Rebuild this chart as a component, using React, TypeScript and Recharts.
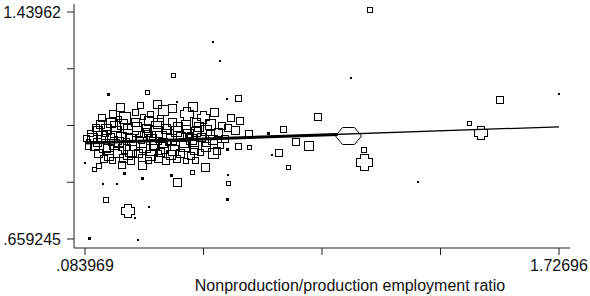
import { Scatter, ScatterChart, XAxis, YAxis, ZAxis } from "recharts";

// industries: nonproduction/production ratio, outcome, employment weight
const industryX = [
  1.0718, 0.5277, 0.552, 1.006, 0.389, 0.1637, 0.2989, 0.2746, 0.5762, 0.6143,
  0.4029, 0.8916, 1.519, 1.4149, 1.4565, 1.727, 1.2382, 1.051, 1.0476, 0.9956,
  0.8604, 0.8119, 0.7703, 0.7564, 0.7321, 0.7876, 0.649, 0.6143, 0.6524, 0.5796,
  0.6178, 0.7183, 0.5796, 0.5796, 0.5796, 0.5277, 0.5, 0.2296, 0.1533, 0.2573,
  0.3058, 0.0979, 0.2677, 0.084, 0.1291, 0.1152, 0.1464, 0.1949, 0.2192, 0.285,
  0.2122, 0.2816, 0.4029, 0.3855, 0.4549, 0.1013,
  0.181, 0.2226, 0.285, 0.3543, 0.3855, 0.4375, 0.493, 0.3093, 0.2573,
  0.136, 0.1707, 0.2122, 0.2573, 0.3024, 0.337, 0.3855, 0.4306, 0.4687, 0.5173, 0.5588,
  0.1256, 0.1568, 0.1914, 0.2296, 0.2642, 0.2954, 0.3301, 0.3647, 0.3994, 0.4341, 0.4687, 0.5034, 0.545, 0.604,
  0.1083, 0.1395, 0.1741, 0.2088, 0.2434, 0.2781, 0.3128, 0.3474, 0.3821, 0.4167, 0.4514, 0.4861, 0.5242, 0.5658,
  0.1152, 0.1499, 0.1845, 0.2192, 0.2538, 0.2885, 0.3232, 0.3578, 0.3925, 0.4271, 0.4618, 0.5, 0.552,
  0.1291, 0.1637, 0.1984, 0.233, 0.2677, 0.3093, 0.344, 0.3786, 0.4133, 0.448, 0.4826,
  0.1776, 0.24, 0.3024, 0.3647, 0.4306,
  0.0944, 0.1464, 0.226, 0.2989, 0.3717, 0.4445, 0.344, 0.1984,
  0.1187, 0.1533, 0.188, 0.2261, 0.2608, 0.2954, 0.3301, 0.3682, 0.4063, 0.441, 0.4791, 0.5173, 0.5762,
  0.1256, 0.1637, 0.2018, 0.24, 0.2781, 0.3162, 0.3509, 0.389, 0.4237, 0.4618, 0.5034, 0.5381,
  0.1464, 0.2157, 0.2781, 0.337, 0.3994, 0.4653,
  0.2053, 0.3335, 0.4583, 0.5311, 0.5866, 0.1395, 0.0944, 0.0875
];

const industryY = [
  1.4465, 1.3365, 1.2711, 1.2127, 1.223, 1.1577, 1.1646, 1.1199, 1.1405, 1.1439,
  1.1302, 1.082, 1.1405, 1.058, 1.027, 1.1577, 0.8552, 0.9239, 0.9686, 1.0167,
  0.9823, 0.9961, 1.0374, 0.9583, 0.948, 0.9067, 1.0236, 0.9789, 0.9755, 0.9686,
  1.0649, 1.0236, 0.8792, 0.8517, 0.7967, 0.9548, 0.9067, 0.7555, 0.7967, 0.7314,
  0.7692, 0.6626, 0.6557, 0.9205, 0.9136, 0.8998, 0.8483, 0.8483, 0.8861, 0.8689,
  0.917, 0.9136, 0.8552, 0.8792, 0.8895, 1.0236,
  1.0924, 1.0786, 1.082, 1.1027, 1.1096, 1.0924, 1.0786, 1.0889, 1.0958,
  1.0545, 1.0614, 1.0545, 1.0614, 1.0649, 1.058, 1.0614, 1.0545, 1.0614, 1.0545, 1.0511,
  1.0339, 1.0374, 1.0305, 1.0374, 1.0305, 1.0408, 1.0305, 1.0374, 1.0305, 1.0374, 1.0305, 1.0339, 1.027, 1.0339,
  1.0064, 1.0099, 1.003, 1.0099, 1.003, 1.0099, 1.003, 1.0099, 1.003, 1.0099, 1.003, 1.0099, 1.003, 1.0064,
  0.9823, 0.9789, 0.9858, 0.9755, 0.9823, 0.9789, 0.9858, 0.9755, 0.9823, 0.9789, 0.9858, 0.9789, 0.9823,
  0.9548, 0.948, 0.9583, 0.9514, 0.9548, 0.948, 0.9583, 0.9514, 0.9548, 0.948, 0.9583,
  0.9308, 0.9274, 0.9308, 0.9274, 0.9308,
  0.9961, 1.0236, 0.9961, 1.0236, 0.9927, 1.0201, 1.0752, 1.0752,
  1.0442, 1.0201, 1.0477, 1.0201, 1.0477, 1.0201, 1.0477, 1.0201, 1.0477, 1.0201, 1.0477, 1.0201, 1.0442,
  0.9927, 0.9686, 0.9961, 0.9652, 0.9927, 0.9686, 0.9927, 0.9652, 0.9927, 0.9652, 0.9927, 0.9652,
  0.9377, 0.9377, 0.9411, 0.9377, 0.9377, 0.9308,
  1.113, 1.1233, 1.1164, 1.0958, 1.0786, 1.0786, 0.9789, 1.0064
];

const industryWeight = [
  6, 1, 1, 1, 4, 2, 4, 9, 1, 9,
  1, 12, 12, 4, 42, 1, 1, 64, 6, 121,
  20, 12, 9, 12, 1, 4, 12, 9, 4, 2,
  12, 2, 1, 4, 2, 25, 16, 42, 6, 1,
  1, 2, 1, 1, 6, 4, 1, 1, 2, 2,
  12, 16, 16, 2, 4, 9,
  12, 30, 6, 25, 16, 42, 36, 9, 9,
  16, 20, 25, 16, 20, 25, 16, 20, 16, 25, 12,
  20, 25, 30, 20, 25, 16, 30, 20, 25, 16, 20, 25, 16, 16,
  25, 30, 36, 25, 30, 36, 25, 30, 25, 20, 25, 16, 20, 12,
  20, 30, 25, 36, 25, 30, 25, 36, 20, 25, 16, 20, 9,
  16, 20, 25, 20, 16, 25, 16, 20, 16, 12, 9,
  9, 12, 9, 12, 6,
  4, 6, 9, 9, 9, 6, 9, 6,
  12, 20, 25, 30, 20, 36, 25, 30, 20, 25, 20, 16, 12,
  16, 25, 20, 30, 25, 30, 20, 25, 20, 16, 16, 12,
  12, 16, 12, 16, 12, 9,
  16, 16, 20, 16, 12, 12, 9, 9
];

const xTicks = [0.083969, 0.494717, 0.905464, 1.316212, 1.72696];
const xTickLabels = [".083969", "", "", "", "1.72696"];
const yTicks = [0.659245, 0.854339, 1.049433, 1.244526, 1.43962];
const yTickLabels = [".659245", "", "", "", "1.43962"];

const fitX = [0.083969, 1.72696];
const fitY = [0.989, 1.045];
const denseFitX = [0.083969, 0.96];
const denseFitY = [0.989, 1.0185];

const points = industryX.map((x, i) => ({ x, y: industryY[i], w: industryWeight[i] }));
const fitData = fitX.map((x, i) => ({ x, y: fitY[i] }));
const denseFitData = denseFitX.map((x, i) => ({ x, y: denseFitY[i] }));

const font = '"Liberation Sans", Arial, Helvetica, sans-serif';

function Marker(props: any) {
  const { cx, cy } = props;
  if (cx == null || cy == null) return <g />;
  const side = props.width ?? 2 * Math.sqrt((props.size ?? 12) / Math.PI);
  if (side <= 3.2) {
    const s = Math.max(2, Math.round(side));
    return <rect x={Math.round(cx - s / 2)} y={Math.round(cy - s / 2)} width={s} height={s} fill="#000" />;
  }
  const s = Math.round(side);
  const x0 = Math.round(cx - s / 2) + 0.5;
  const y0 = Math.round(cy - s / 2) + 0.5;
  if (s >= 20) {
    // big weights come out as flat octagons
    const w = Math.round(s * 1.2);
    const h = Math.round(s * 0.75);
    const bx = Math.round(cx - w / 2) + 0.5;
    const by = Math.round(cy - h / 2) + 0.5;
    const c = Math.round(h * 0.4);
    const pts = [
      [bx + c, by], [bx + w - c, by], [bx + w, by + h / 2],
      [bx + w - c, by + h], [bx + c, by + h], [bx, by + h / 2]
    ].map((p) => p.join(",")).join(" ");
    return <polygon points={pts} fill="none" stroke="#000" strokeWidth={1} />;
  }
  if (s >= 12) {
    // notched square
    const n = Math.round(s * 0.22);
    const pts = [
      [x0 + n, y0], [x0 + s - n, y0], [x0 + s - n, y0 + n], [x0 + s, y0 + n],
      [x0 + s, y0 + s - n], [x0 + s - n, y0 + s - n], [x0 + s - n, y0 + s],
      [x0 + n, y0 + s], [x0 + n, y0 + s - n], [x0, y0 + s - n], [x0, y0 + n], [x0 + n, y0 + n]
    ].map((p) => p.join(",")).join(" ");
    return <polygon points={pts} fill="none" stroke="#000" strokeWidth={1} shapeRendering="crispEdges" />;
  }
  return <rect x={x0} y={y0} width={s} height={s} fill="none" stroke="#000" strokeWidth={1} shapeRendering="crispEdges" />;
}

export default function App() {
  return (
    <div style={{ position: "absolute", left: 0, top: 0, background: "#fff" }}>
      <ScatterChart width={590} height={296} margin={{ top: 4, right: 20, left: 0, bottom: 0 }}>
        <XAxis
          type="number"
          dataKey="x"
          domain={[0.04584, 1.76509]}
          ticks={xTicks}
          interval={0}
          allowDataOverflow
          height={48}
          tickSize={7}
          tickMargin={5}
          tickFormatter={(v: number) => xTickLabels[xTicks.indexOf(v)] ?? ""}
          stroke="#222"
          tick={{ fill: "#111", fontSize: 16, fontFamily: font }}
          label={{ value: "Nonproduction/production employment ratio", position: "insideBottom", offset: 5, dx: 28, fill: "#111", fontSize: 16, fontFamily: font }}
        />
        <YAxis
          type="number"
          dataKey="y"
          domain={[0.6283, 1.46712]}
          ticks={yTicks}
          interval={0}
          allowDataOverflow
          width={74}
          tickSize={7}
          tickMargin={6}
          tickFormatter={(v: number) => yTickLabels[yTicks.indexOf(v)] ?? ""}
          stroke="#222"
          tick={{ fill: "#111", fontSize: 16, fontFamily: font }}
        />
        <ZAxis type="number" dataKey="w" domain={[0, 169]} range={[0, Math.PI * 169]} />
        <Scatter data={points} shape={Marker} isAnimationActive={false} />
        <Scatter data={denseFitData} line={{ stroke: "#000", strokeWidth: 3 }} shape={() => <g />} isAnimationActive={false} />
        <Scatter data={fitData} line={{ stroke: "#000", strokeWidth: 1.3 }} shape={() => <g />} isAnimationActive={false} />
      </ScatterChart>
    </div>
  );
}
